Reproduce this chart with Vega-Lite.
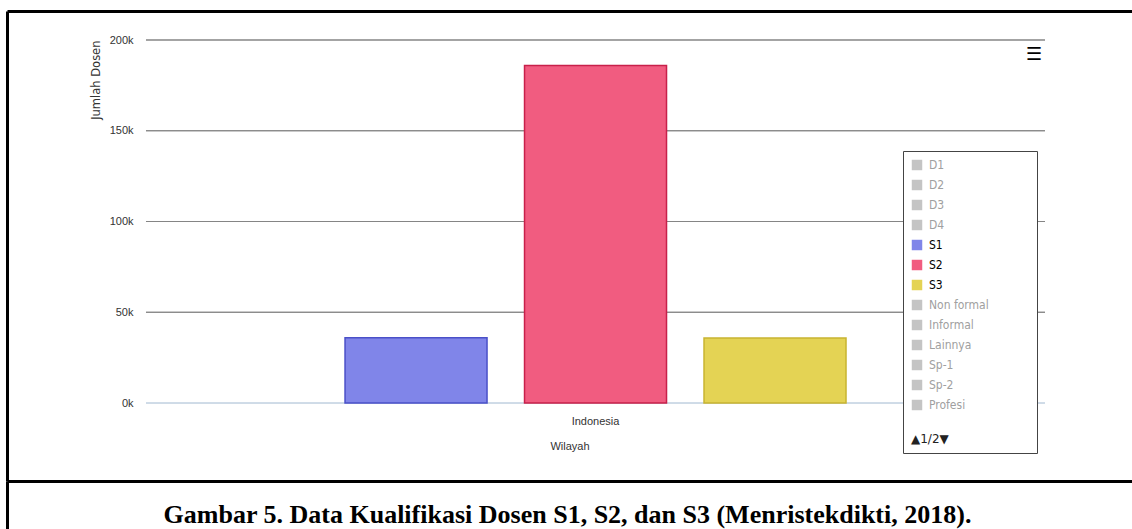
{
  "$schema": "https://vega.github.io/schema/vega-lite/v6.json",
  "background": "white",
  "padding": {"left": 7, "top": 11, "right": 0, "bottom": 0},
  "spacing": 0,
  "bounds": "flush",
  "config": {
    "view": {"stroke": null},
    "font": "Liberation Sans"
  },
  "vconcat": [
    {
      "width": 1125,
      "height": 470,
      "title": {"text": "☰", "anchor": "end", "orient": "top", "frame": "group", "offset": -53, "dx": -90, "fontSize": 18, "fontWeight": "bold", "color": "#000000", "font": "DejaVu Sans"},
      "resolve": {"scale": {"x": "independent"}, "axis": {"x": "independent"}},
      "layer": [
        {
          "data": {"values": [
            {"Wilayah": "Indonesia", "tick": 0},
            {"Wilayah": "Indonesia", "tick": 50000},
            {"Wilayah": "Indonesia", "tick": 100000},
            {"Wilayah": "Indonesia", "tick": 150000},
            {"Wilayah": "Indonesia", "tick": 200000}
          ]},
          "mark": {"type": "bar", "fill": "transparent", "strokeWidth": 1},
          "encoding": {
            "x": {"field": "Wilayah", "type": "nominal", "scale": {"paddingInner": 0, "paddingOuter": 0.1257, "align": 0.615}, "axis": {"orient": "top", "domain": true, "domainColor": "#000000", "domainWidth": 3, "labels": false, "ticks": false, "grid": false, "title": null}},
            "y": {"field": "tick", "type": "quantitative", "scale": {"domain": [-42975, 215978], "nice": false, "zero": false}, "axis": {"orient": "left", "domain": true, "domainColor": "#000000", "domainWidth": 3, "ticks": false, "tickSize": 0, "grid": false, "values": [0, 50000, 100000, 150000, 200000], "labelExpr": "datum.value / 1000 + 'k'", "labelAlign": "right", "labelPadding": -126, "labelFontSize": 11, "labelColor": "#333333", "title": "Jumlah Dosen", "titleFont": "DejaVu Sans", "titleFontSize": 11.5, "titleFontWeight": "normal", "titleColor": "#333333", "titleAnchor": "end", "titleBaseline": "middle", "titleX": 89, "titleY": 29}},
            "y2": {"field": "tick"},
            "stroke": {"condition": {"test": "datum.tick === 0", "value": "#c0d0e0"}, "value": "#858585"}
          }
        },
        {
          "data": {"values": [
            {"Wilayah": "Indonesia", "Kualifikasi": "S1", "Jumlah": 36000},
            {"Wilayah": "Indonesia", "Kualifikasi": "S2", "Jumlah": 186000},
            {"Wilayah": "Indonesia", "Kualifikasi": "S3", "Jumlah": 35800}
          ]},
          "mark": {"type": "bar", "strokeWidth": 1.5},
          "encoding": {
            "x": {"field": "Wilayah", "type": "nominal", "scale": {"paddingInner": 0, "paddingOuter": 0.6228, "align": 0.5417}, "axis": {"orient": "bottom", "domain": true, "domainColor": "#000000", "domainWidth": 3, "ticks": false, "tickSize": 0, "grid": false, "labelAngle": 0, "labelBaseline": "middle", "labelPadding": -60, "labelFontSize": 11, "labelColor": "#333333", "title": "Wilayah", "titleFontSize": 11, "titleFontWeight": "normal", "titleColor": "#333333", "titleBaseline": "middle", "titleY": -35}},
            "xOffset": {"field": "Kualifikasi", "type": "nominal", "scale": {"domain": ["S1", "S2", "S3"], "paddingInner": 0.2089, "paddingOuter": 0}},
            "y": {"field": "Jumlah", "type": "quantitative", "scale": {"domain": [-42975, 215978], "nice": false, "zero": false}, "axis": {"orient": "left", "domain": true, "domainColor": "#000000", "domainWidth": 3, "ticks": false, "tickSize": 0, "grid": false, "values": [0, 50000, 100000, 150000, 200000], "labelExpr": "datum.value / 1000 + 'k'", "labelAlign": "right", "labelPadding": -126, "labelFontSize": 11, "labelColor": "#333333", "title": "Jumlah Dosen", "titleFont": "DejaVu Sans", "titleFontSize": 11.5, "titleFontWeight": "normal", "titleColor": "#333333", "titleAnchor": "end", "titleBaseline": "middle", "titleX": 89, "titleY": 29}},
            "color": {
              "field": "Kualifikasi", "type": "nominal",
              "scale": {
                "domain": ["D1", "D2", "D3", "D4", "S1", "S2", "S3", "Non formal", "Informal", "Lainnya", "Sp-1", "Sp-2", "Profesi"],
                "range": ["#c4c4c4", "#c4c4c4", "#c4c4c4", "#c4c4c4", "#8085e9", "#f15c80", "#e4d354", "#c4c4c4", "#c4c4c4", "#c4c4c4", "#c4c4c4", "#c4c4c4", "#c4c4c4"]
              },
              "legend": {
                "orient": "none", "legendX": 896, "legendY": 140,
                "title": "▲1/2▼",
                "titleOrient": "bottom", "titleAnchor": "start", "titleFont": "DejaVu Sans", "titleFontSize": 12, "titleFontWeight": "normal", "titleColor": "#222222", "titlePadding": 23,
                "strokeColor": "#444444", "fillColor": "white", "padding": 8,
                "symbolType": "square", "symbolSize": 110, "symbolStrokeWidth": 0,
                "labelExpr": "datum.label + '\u2800\u2800\u2800\u2800\u2800'",
                "labelFont": "Liberation Sans Narrow, DejaVu Sans Condensed, Liberation Sans, sans-serif", "labelFontSize": 12, "labelOffset": 6, "rowPadding": 8,
                "encode": {"labels": {"update": {"fill": [{"test": "indexof(['S1','S2','S3'], datum.value) >= 0", "value": "#000000"}, {"value": "#a0a0a0"}]}}}
              }
            },
            "stroke": {
              "field": "Kualifikasi", "type": "nominal",
              "scale": {
                "domain": ["D1", "D2", "D3", "D4", "S1", "S2", "S3", "Non formal", "Informal", "Lainnya", "Sp-1", "Sp-2", "Profesi"],
                "range": ["#aaaaaa", "#aaaaaa", "#aaaaaa", "#aaaaaa", "#4a50c8", "#c8204a", "#c8b430", "#aaaaaa", "#aaaaaa", "#aaaaaa", "#aaaaaa", "#aaaaaa", "#aaaaaa"]
              },
              "legend": null
            }
          }
        }
      ]
    },
    {
      "width": 1125,
      "height": 48,
      "data": {"values": [{"caption": "Gambar 5. Data Kualifikasi Dosen S1, S2, dan S3 (Menristekdikti, 2018)."}]},
      "mark": {"type": "text", "font": "Liberation Serif", "fontWeight": "bold", "fontSize": 26, "color": "#000000", "baseline": "middle", "dy": 10, "dx": -2},
      "encoding": {
        "text": {"field": "caption", "type": "nominal"},
        "y": {"field": "caption", "type": "nominal", "axis": {"orient": "left", "domain": true, "domainColor": "#000000", "domainWidth": 3, "labels": false, "ticks": false, "grid": false, "title": null}}
      }
    }
  ]
}
